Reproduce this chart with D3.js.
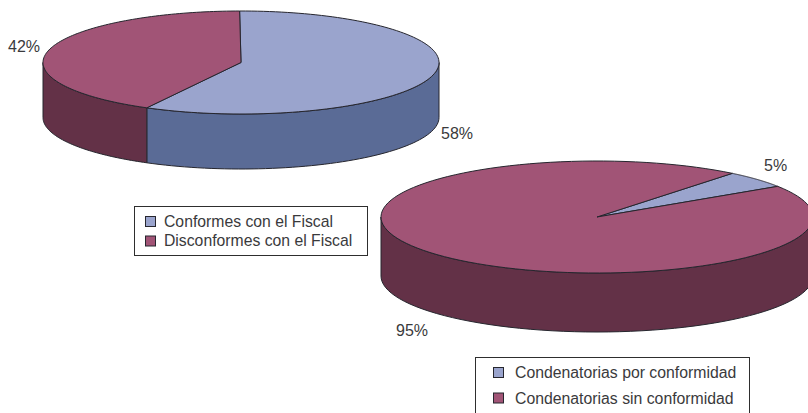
<!DOCTYPE html>
<html>
<head>
<meta charset="utf-8">
<script src="https://cdn.jsdelivr.net/npm/d3@7"></script>
<style>
  html, body { margin: 0; padding: 0; background: #fff; overflow: hidden; }
  text { font-family: "Liberation Sans", sans-serif; fill: #3a3a3c; }
</style>
</head>
<body>
<svg id="chart" width="808" height="413"></svg>
<script>
const fiscalNames = [ "Conformes con el Fiscal", "Disconformes con el Fiscal" ];
const fiscalValues = [ 58, 42 ];
const sentenceNames = [ "Condenatorias por conformidad", "Condenatorias sin conformidad" ];
const sentenceValues = [ 5, 95 ];

const TOP_COLORS = [ "#9aa4cd", "#a15476" ];
const SIDE_COLORS = [ "#5a6b96", "#633147" ];
const EDGE = "#26262e";

const svg = d3.select( "#chart" );

const drawPie = ( values, o ) => {
  const g = svg.append( "g" );
  const pie = d3.pie().sort( null )
    .startAngle( o.start )
    .endAngle( o.start + 2 * Math.PI );
  const slices = pie( values );

  // squashed circle, angle 0 at 12 o'clock going clockwise
  const px = a => o.cx + o.rx * Math.sin( a );
  const py = a => o.cy - o.ry * Math.cos( a );
  const line = d3.line();

  // front wall: only the part between 3 and 9 o'clock can be seen
  slices.forEach( s => {
    [ 0, 2 * Math.PI ].forEach( shift => {
      const a0 = Math.max( s.startAngle - shift, Math.PI / 2 );
      const a1 = Math.min( s.endAngle - shift, 3 * Math.PI / 2 );
      if ( a1 <= a0 ) return;
      const angles = d3.range( 0, 61 ).map( i => a0 + ( a1 - a0 ) * i / 60 );
      const pts = angles.map( a => [ px( a ), py( a ) ] )
        .concat( angles.slice().reverse().map( a => [ px( a ), py( a ) + o.depth ] ) );
      g.append( "path" )
        .attr( "d", line( pts ) + "Z" )
        .attr( "fill", SIDE_COLORS[s.index] )
        .attr( "stroke", EDGE )
        .attr( "stroke-width", 1 )
        .attr( "stroke-linejoin", "round" );
    } );
  } );

  // top face
  slices.forEach( s => {
    const angles = d3.range( 0, 121 ).map( i => s.startAngle + ( s.endAngle - s.startAngle ) * i / 120 );
    const pts = [ [ o.cx, o.cy ] ].concat( angles.map( a => [ px( a ), py( a ) ] ) );
    g.append( "path" )
      .attr( "d", line( pts ) + "Z" )
      .attr( "fill", TOP_COLORS[s.index] )
      .attr( "stroke", EDGE )
      .attr( "stroke-width", 1 )
      .attr( "stroke-linejoin", "round" );
  } );

  // percent labels
  values.forEach( ( v, i ) => {
    svg.append( "text" )
      .attr( "x", o.labels[i][0] )
      .attr( "y", o.labels[i][1] )
      .attr( "font-size", 16 )
      .text( `${v}%` );
  } );
};

const drawLegend = ( names, o ) => {
  svg.append( "rect" )
    .attr( "x", o.x + 0.5 )
    .attr( "y", o.y + 0.5 )
    .attr( "width", o.w )
    .attr( "height", o.h )
    .attr( "fill", "#fff" )
    .attr( "stroke", "#2e2e2e" )
    .attr( "stroke-width", 1 );

  names.forEach( ( name, i ) => {
    svg.append( "rect" )
      .attr( "x", o.swatchX + 0.5 )
      .attr( "y", o.swatchY + i * o.step + 0.5 )
      .attr( "width", o.size )
      .attr( "height", o.size )
      .attr( "fill", TOP_COLORS[i] )
      .attr( "stroke", EDGE );
    svg.append( "text" )
      .attr( "x", o.textX )
      .attr( "y", o.baseline + i * o.step )
      .attr( "font-size", o.font )
      .text( name );
  } );
};

drawPie( fiscalValues, {
  cx: 241, cy: 62.5, rx: 198, ry: 51.5, depth: 55, start: -0.4 * Math.PI / 180,
  labels: [ [ 441, 139 ], [ 8, 52 ] ],
} );

drawPie( sentenceValues, {
  cx: 597, cy: 217, rx: 216, ry: 56, depth: 59, start: 38.8 * Math.PI / 180,
  labels: [ [ 764, 171 ], [ 396, 336 ] ],
} );

drawLegend( fiscalNames, {
  x: 134, y: 206, w: 233, h: 49,
  swatchX: 145, swatchY: 216, size: 10, step: 19.5,
  textX: 164, baseline: 226.5, font: 15.75,
} );

drawLegend( sentenceNames, {
  x: 475, y: 357, w: 274, h: 70,
  swatchX: 493, swatchY: 367, size: 10, step: 25.5,
  textX: 515, baseline: 378, font: 15.8,
} );
</script>
</body>
</html>
